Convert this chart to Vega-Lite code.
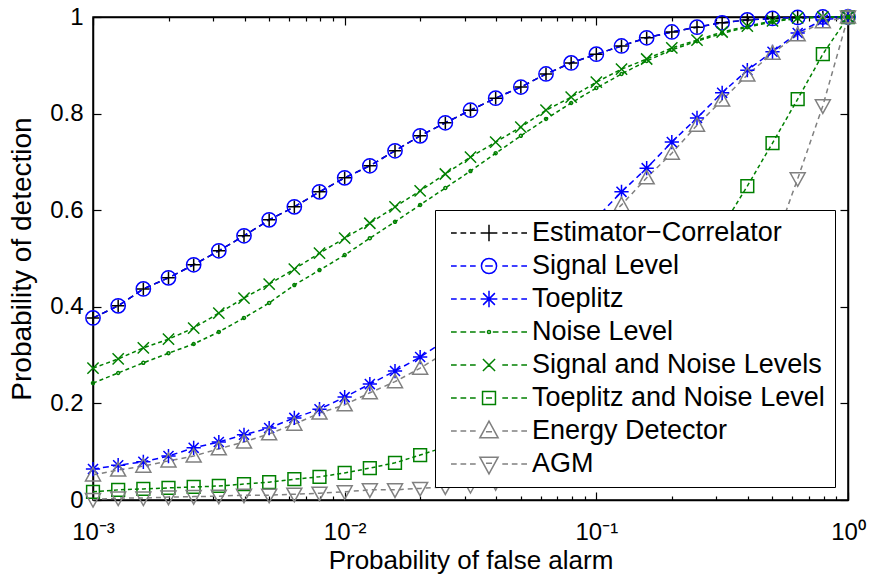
{
"$schema": "https://vega.github.io/schema/vega-lite/v6.json",
"width": 755, "height": 483,
"autosize": "none",
"padding": {"left": 93, "top": 17, "right": 21, "bottom": 82},
"background": "white",
"config": {
  "font": "Liberation Sans",
  "view": {"stroke": "black", "strokeWidth": 1.5},
  "axis": {"grid": false, "zindex": 1, "domainColor": "black", "domainWidth": 1.5, "tickColor": "black", "tickWidth": 1.2, "labelColor": "black", "titleColor": "black", "labelFont": "Liberation Sans", "titleFont": "Liberation Sans", "titleFontWeight": "normal"}
},
"data": {"values": [
{"series":"Estimator−Correlator","pfa":0.001,"pd":0.377},{"series":"Estimator−Correlator","pfa":0.001259,"pd":0.402},{"series":"Estimator−Correlator","pfa":0.001585,"pd":0.437},{"series":"Estimator−Correlator","pfa":0.001995,"pd":0.46},{"series":"Estimator−Correlator","pfa":0.002512,"pd":0.487},{"series":"Estimator−Correlator","pfa":0.003162,"pd":0.516},{"series":"Estimator−Correlator","pfa":0.003981,"pd":0.547},{"series":"Estimator−Correlator","pfa":0.005012,"pd":0.58},{"series":"Estimator−Correlator","pfa":0.00631,"pd":0.607},{"series":"Estimator−Correlator","pfa":0.007943,"pd":0.638},{"series":"Estimator−Correlator","pfa":0.01,"pd":0.667},{"series":"Estimator−Correlator","pfa":0.01259,"pd":0.692},{"series":"Estimator−Correlator","pfa":0.01585,"pd":0.723},{"series":"Estimator−Correlator","pfa":0.01995,"pd":0.754},{"series":"Estimator−Correlator","pfa":0.02512,"pd":0.781},{"series":"Estimator−Correlator","pfa":0.03162,"pd":0.807},{"series":"Estimator−Correlator","pfa":0.03981,"pd":0.832},{"series":"Estimator−Correlator","pfa":0.05012,"pd":0.855},{"series":"Estimator−Correlator","pfa":0.0631,"pd":0.882},{"series":"Estimator−Correlator","pfa":0.07943,"pd":0.905},{"series":"Estimator−Correlator","pfa":0.1,"pd":0.923},{"series":"Estimator−Correlator","pfa":0.1259,"pd":0.94},{"series":"Estimator−Correlator","pfa":0.1585,"pd":0.957},{"series":"Estimator−Correlator","pfa":0.1995,"pd":0.969},{"series":"Estimator−Correlator","pfa":0.2512,"pd":0.979},{"series":"Estimator−Correlator","pfa":0.3162,"pd":0.988},{"series":"Estimator−Correlator","pfa":0.3981,"pd":0.994},{"series":"Estimator−Correlator","pfa":0.5012,"pd":0.997},{"series":"Estimator−Correlator","pfa":0.631,"pd":0.999},{"series":"Estimator−Correlator","pfa":0.7943,"pd":1},{"series":"Estimator−Correlator","pfa":1,"pd":1},
{"series":"Signal Level","pfa":0.001,"pd":0.377},{"series":"Signal Level","pfa":0.001259,"pd":0.402},{"series":"Signal Level","pfa":0.001585,"pd":0.437},{"series":"Signal Level","pfa":0.001995,"pd":0.46},{"series":"Signal Level","pfa":0.002512,"pd":0.487},{"series":"Signal Level","pfa":0.003162,"pd":0.516},{"series":"Signal Level","pfa":0.003981,"pd":0.547},{"series":"Signal Level","pfa":0.005012,"pd":0.58},{"series":"Signal Level","pfa":0.00631,"pd":0.607},{"series":"Signal Level","pfa":0.007943,"pd":0.638},{"series":"Signal Level","pfa":0.01,"pd":0.667},{"series":"Signal Level","pfa":0.01259,"pd":0.692},{"series":"Signal Level","pfa":0.01585,"pd":0.723},{"series":"Signal Level","pfa":0.01995,"pd":0.754},{"series":"Signal Level","pfa":0.02512,"pd":0.781},{"series":"Signal Level","pfa":0.03162,"pd":0.807},{"series":"Signal Level","pfa":0.03981,"pd":0.832},{"series":"Signal Level","pfa":0.05012,"pd":0.855},{"series":"Signal Level","pfa":0.0631,"pd":0.882},{"series":"Signal Level","pfa":0.07943,"pd":0.905},{"series":"Signal Level","pfa":0.1,"pd":0.923},{"series":"Signal Level","pfa":0.1259,"pd":0.94},{"series":"Signal Level","pfa":0.1585,"pd":0.957},{"series":"Signal Level","pfa":0.1995,"pd":0.969},{"series":"Signal Level","pfa":0.2512,"pd":0.979},{"series":"Signal Level","pfa":0.3162,"pd":0.988},{"series":"Signal Level","pfa":0.3981,"pd":0.994},{"series":"Signal Level","pfa":0.5012,"pd":0.997},{"series":"Signal Level","pfa":0.631,"pd":0.999},{"series":"Signal Level","pfa":0.7943,"pd":1},{"series":"Signal Level","pfa":1,"pd":1},
{"series":"Toeplitz","pfa":0.001,"pd":0.064},{"series":"Toeplitz","pfa":0.001259,"pd":0.072},{"series":"Toeplitz","pfa":0.001585,"pd":0.079},{"series":"Toeplitz","pfa":0.001995,"pd":0.091},{"series":"Toeplitz","pfa":0.002512,"pd":0.108},{"series":"Toeplitz","pfa":0.003162,"pd":0.12},{"series":"Toeplitz","pfa":0.003981,"pd":0.135},{"series":"Toeplitz","pfa":0.005012,"pd":0.149},{"series":"Toeplitz","pfa":0.00631,"pd":0.17},{"series":"Toeplitz","pfa":0.007943,"pd":0.188},{"series":"Toeplitz","pfa":0.01,"pd":0.213},{"series":"Toeplitz","pfa":0.01259,"pd":0.24},{"series":"Toeplitz","pfa":0.01585,"pd":0.267},{"series":"Toeplitz","pfa":0.01995,"pd":0.296},{"series":"Toeplitz","pfa":0.02512,"pd":0.33},{"series":"Toeplitz","pfa":0.03162,"pd":0.37},{"series":"Toeplitz","pfa":0.03981,"pd":0.41},{"series":"Toeplitz","pfa":0.05012,"pd":0.45},{"series":"Toeplitz","pfa":0.0631,"pd":0.49},{"series":"Toeplitz","pfa":0.07943,"pd":0.535},{"series":"Toeplitz","pfa":0.1,"pd":0.584},{"series":"Toeplitz","pfa":0.1259,"pd":0.638},{"series":"Toeplitz","pfa":0.1585,"pd":0.687},{"series":"Toeplitz","pfa":0.1995,"pd":0.741},{"series":"Toeplitz","pfa":0.2512,"pd":0.791},{"series":"Toeplitz","pfa":0.3162,"pd":0.843},{"series":"Toeplitz","pfa":0.3981,"pd":0.89},{"series":"Toeplitz","pfa":0.5012,"pd":0.928},{"series":"Toeplitz","pfa":0.631,"pd":0.967},{"series":"Toeplitz","pfa":0.7943,"pd":0.994},{"series":"Toeplitz","pfa":1,"pd":1},
{"series":"Noise Level","pfa":0.001,"pd":0.242},{"series":"Noise Level","pfa":0.001259,"pd":0.263},{"series":"Noise Level","pfa":0.001585,"pd":0.284},{"series":"Noise Level","pfa":0.001995,"pd":0.304},{"series":"Noise Level","pfa":0.002512,"pd":0.323},{"series":"Noise Level","pfa":0.003162,"pd":0.348},{"series":"Noise Level","pfa":0.003981,"pd":0.377},{"series":"Noise Level","pfa":0.005012,"pd":0.408},{"series":"Noise Level","pfa":0.00631,"pd":0.445},{"series":"Noise Level","pfa":0.007943,"pd":0.476},{"series":"Noise Level","pfa":0.01,"pd":0.507},{"series":"Noise Level","pfa":0.01259,"pd":0.542},{"series":"Noise Level","pfa":0.01585,"pd":0.576},{"series":"Noise Level","pfa":0.01995,"pd":0.611},{"series":"Noise Level","pfa":0.02512,"pd":0.646},{"series":"Noise Level","pfa":0.03162,"pd":0.681},{"series":"Noise Level","pfa":0.03981,"pd":0.718},{"series":"Noise Level","pfa":0.05012,"pd":0.754},{"series":"Noise Level","pfa":0.0631,"pd":0.789},{"series":"Noise Level","pfa":0.07943,"pd":0.822},{"series":"Noise Level","pfa":0.1,"pd":0.853},{"series":"Noise Level","pfa":0.1259,"pd":0.882},{"series":"Noise Level","pfa":0.1585,"pd":0.909},{"series":"Noise Level","pfa":0.1995,"pd":0.932},{"series":"Noise Level","pfa":0.2512,"pd":0.95},{"series":"Noise Level","pfa":0.3162,"pd":0.966},{"series":"Noise Level","pfa":0.3981,"pd":0.979},{"series":"Noise Level","pfa":0.5012,"pd":0.99},{"series":"Noise Level","pfa":0.631,"pd":0.997},{"series":"Noise Level","pfa":0.7943,"pd":1},{"series":"Noise Level","pfa":1,"pd":1},
{"series":"Signal and Noise Levels","pfa":0.001,"pd":0.273},{"series":"Signal and Noise Levels","pfa":0.001259,"pd":0.292},{"series":"Signal and Noise Levels","pfa":0.001585,"pd":0.315},{"series":"Signal and Noise Levels","pfa":0.001995,"pd":0.333},{"series":"Signal and Noise Levels","pfa":0.002512,"pd":0.356},{"series":"Signal and Noise Levels","pfa":0.003162,"pd":0.387},{"series":"Signal and Noise Levels","pfa":0.003981,"pd":0.418},{"series":"Signal and Noise Levels","pfa":0.005012,"pd":0.447},{"series":"Signal and Noise Levels","pfa":0.00631,"pd":0.478},{"series":"Signal and Noise Levels","pfa":0.007943,"pd":0.511},{"series":"Signal and Noise Levels","pfa":0.01,"pd":0.542},{"series":"Signal and Noise Levels","pfa":0.01259,"pd":0.573},{"series":"Signal and Noise Levels","pfa":0.01585,"pd":0.607},{"series":"Signal and Noise Levels","pfa":0.01995,"pd":0.64},{"series":"Signal and Noise Levels","pfa":0.02512,"pd":0.675},{"series":"Signal and Noise Levels","pfa":0.03162,"pd":0.71},{"series":"Signal and Noise Levels","pfa":0.03981,"pd":0.741},{"series":"Signal and Noise Levels","pfa":0.05012,"pd":0.772},{"series":"Signal and Noise Levels","pfa":0.0631,"pd":0.807},{"series":"Signal and Noise Levels","pfa":0.07943,"pd":0.834},{"series":"Signal and Noise Levels","pfa":0.1,"pd":0.865},{"series":"Signal and Noise Levels","pfa":0.1259,"pd":0.892},{"series":"Signal and Noise Levels","pfa":0.1585,"pd":0.913},{"series":"Signal and Noise Levels","pfa":0.1995,"pd":0.936},{"series":"Signal and Noise Levels","pfa":0.2512,"pd":0.952},{"series":"Signal and Noise Levels","pfa":0.3162,"pd":0.969},{"series":"Signal and Noise Levels","pfa":0.3981,"pd":0.981},{"series":"Signal and Noise Levels","pfa":0.5012,"pd":0.992},{"series":"Signal and Noise Levels","pfa":0.631,"pd":0.998},{"series":"Signal and Noise Levels","pfa":0.7943,"pd":1},{"series":"Signal and Noise Levels","pfa":1,"pd":1},
{"series":"Toeplitz and Noise Level","pfa":0.001,"pd":0.017},{"series":"Toeplitz and Noise Level","pfa":0.001259,"pd":0.021},{"series":"Toeplitz and Noise Level","pfa":0.001585,"pd":0.023},{"series":"Toeplitz and Noise Level","pfa":0.001995,"pd":0.025},{"series":"Toeplitz and Noise Level","pfa":0.002512,"pd":0.027},{"series":"Toeplitz and Noise Level","pfa":0.003162,"pd":0.029},{"series":"Toeplitz and Noise Level","pfa":0.003981,"pd":0.033},{"series":"Toeplitz and Noise Level","pfa":0.005012,"pd":0.037},{"series":"Toeplitz and Noise Level","pfa":0.00631,"pd":0.043},{"series":"Toeplitz and Noise Level","pfa":0.007943,"pd":0.048},{"series":"Toeplitz and Noise Level","pfa":0.01,"pd":0.056},{"series":"Toeplitz and Noise Level","pfa":0.01259,"pd":0.066},{"series":"Toeplitz and Noise Level","pfa":0.01585,"pd":0.077},{"series":"Toeplitz and Noise Level","pfa":0.01995,"pd":0.093},{"series":"Toeplitz and Noise Level","pfa":0.02512,"pd":0.11},{"series":"Toeplitz and Noise Level","pfa":0.03162,"pd":0.13},{"series":"Toeplitz and Noise Level","pfa":0.03981,"pd":0.155},{"series":"Toeplitz and Noise Level","pfa":0.05012,"pd":0.18},{"series":"Toeplitz and Noise Level","pfa":0.0631,"pd":0.215},{"series":"Toeplitz and Noise Level","pfa":0.07943,"pd":0.25},{"series":"Toeplitz and Noise Level","pfa":0.1,"pd":0.29},{"series":"Toeplitz and Noise Level","pfa":0.1259,"pd":0.335},{"series":"Toeplitz and Noise Level","pfa":0.1585,"pd":0.385},{"series":"Toeplitz and Noise Level","pfa":0.1995,"pd":0.44},{"series":"Toeplitz and Noise Level","pfa":0.2512,"pd":0.5},{"series":"Toeplitz and Noise Level","pfa":0.3162,"pd":0.565},{"series":"Toeplitz and Noise Level","pfa":0.3981,"pd":0.65},{"series":"Toeplitz and Noise Level","pfa":0.5012,"pd":0.739},{"series":"Toeplitz and Noise Level","pfa":0.631,"pd":0.83},{"series":"Toeplitz and Noise Level","pfa":0.7943,"pd":0.923},{"series":"Toeplitz and Noise Level","pfa":1,"pd":1},
{"series":"Energy Detector","pfa":0.001,"pd":0.052},{"series":"Energy Detector","pfa":0.001259,"pd":0.062},{"series":"Energy Detector","pfa":0.001585,"pd":0.07},{"series":"Energy Detector","pfa":0.001995,"pd":0.081},{"series":"Energy Detector","pfa":0.002512,"pd":0.091},{"series":"Energy Detector","pfa":0.003162,"pd":0.106},{"series":"Energy Detector","pfa":0.003981,"pd":0.12},{"series":"Energy Detector","pfa":0.005012,"pd":0.137},{"series":"Energy Detector","pfa":0.00631,"pd":0.157},{"series":"Energy Detector","pfa":0.007943,"pd":0.18},{"series":"Energy Detector","pfa":0.01,"pd":0.197},{"series":"Energy Detector","pfa":0.01259,"pd":0.222},{"series":"Energy Detector","pfa":0.01585,"pd":0.245},{"series":"Energy Detector","pfa":0.01995,"pd":0.273},{"series":"Energy Detector","pfa":0.02512,"pd":0.305},{"series":"Energy Detector","pfa":0.03162,"pd":0.34},{"series":"Energy Detector","pfa":0.03981,"pd":0.38},{"series":"Energy Detector","pfa":0.05012,"pd":0.42},{"series":"Energy Detector","pfa":0.0631,"pd":0.465},{"series":"Energy Detector","pfa":0.07943,"pd":0.51},{"series":"Energy Detector","pfa":0.1,"pd":0.56},{"series":"Energy Detector","pfa":0.1259,"pd":0.611},{"series":"Energy Detector","pfa":0.1585,"pd":0.667},{"series":"Energy Detector","pfa":0.1995,"pd":0.718},{"series":"Energy Detector","pfa":0.2512,"pd":0.776},{"series":"Energy Detector","pfa":0.3162,"pd":0.828},{"series":"Energy Detector","pfa":0.3981,"pd":0.88},{"series":"Energy Detector","pfa":0.5012,"pd":0.925},{"series":"Energy Detector","pfa":0.631,"pd":0.963},{"series":"Energy Detector","pfa":0.7943,"pd":0.99},{"series":"Energy Detector","pfa":1,"pd":1},
{"series":"AGM","pfa":0.001,"pd":0.001},{"series":"AGM","pfa":0.001259,"pd":0.004},{"series":"AGM","pfa":0.001585,"pd":0.004},{"series":"AGM","pfa":0.001995,"pd":0.006},{"series":"AGM","pfa":0.002512,"pd":0.007},{"series":"AGM","pfa":0.003162,"pd":0.008},{"series":"AGM","pfa":0.003981,"pd":0.01},{"series":"AGM","pfa":0.005012,"pd":0.01},{"series":"AGM","pfa":0.00631,"pd":0.012},{"series":"AGM","pfa":0.007943,"pd":0.014},{"series":"AGM","pfa":0.01,"pd":0.017},{"series":"AGM","pfa":0.01259,"pd":0.021},{"series":"AGM","pfa":0.01585,"pd":0.021},{"series":"AGM","pfa":0.01995,"pd":0.024},{"series":"AGM","pfa":0.02512,"pd":0.027},{"series":"AGM","pfa":0.03162,"pd":0.03},{"series":"AGM","pfa":0.03981,"pd":0.036},{"series":"AGM","pfa":0.05012,"pd":0.044},{"series":"AGM","pfa":0.0631,"pd":0.055},{"series":"AGM","pfa":0.07943,"pd":0.07},{"series":"AGM","pfa":0.1,"pd":0.085},{"series":"AGM","pfa":0.1259,"pd":0.11},{"series":"AGM","pfa":0.1585,"pd":0.14},{"series":"AGM","pfa":0.1995,"pd":0.18},{"series":"AGM","pfa":0.2512,"pd":0.24},{"series":"AGM","pfa":0.3162,"pd":0.31},{"series":"AGM","pfa":0.3981,"pd":0.4},{"series":"AGM","pfa":0.5012,"pd":0.52},{"series":"AGM","pfa":0.631,"pd":0.665},{"series":"AGM","pfa":0.7943,"pd":0.816},{"series":"AGM","pfa":1,"pd":1}
]},
"layer": [
{
 "mark": {"type": "line", "strokeWidth": 1.5},
 "encoding": {
  "x": {"field": "pfa", "type": "quantitative", "scale": {"type": "log", "domain": [0.001, 1], "nice": false},
   "axis": {"orient": "bottom", "values": [0.001,0.002,0.003,0.004,0.005,0.006,0.007,0.008,0.009,0.01,0.02,0.03,0.04,0.05,0.06,0.07,0.08,0.09,0.1,0.2,0.3,0.4,0.5,0.6,0.7,0.8,0.9,1],
    "ticks": true, "tickSize": {"condition": {"test": "indexof([0.001,0.01,0.1,1], datum.value) >= 0", "value": -8}, "value": -4},
    "labels": false, "title": null}},
  "y": {"field": "pd", "type": "quantitative", "scale": {"domain": [0, 1], "nice": false},
   "axis": {"orient": "left", "values": [0,0.2,0.4,0.6,0.8,1], "ticks": true, "tickSize": -8, "labels": false, "title": null}},
  "stroke": {"field": "series", "type": "nominal",
   "scale": {"range": ["#808080","#808080","#000000","#008000","#0000ff","#008000","#0000ff","#008000"]}, "legend": null},
  "strokeDash": {"field": "series", "type": "nominal",
   "scale": {"range": [[5,4],[5,4],[6,4],[4,3],[6,4],[4,3],[6,4],[4,3]]}, "legend": null}
 }
},
{
 "mark": {"type": "point", "filled": false, "opacity": 1, "strokeWidth": 1.5, "size": 225},
 "encoding": {
  "x": {"field": "pfa", "type": "quantitative",
   "axis": {"orient": "top", "values": [0.001,0.002,0.003,0.004,0.005,0.006,0.007,0.008,0.009,0.01,0.02,0.03,0.04,0.05,0.06,0.07,0.08,0.09,0.1,0.2,0.3,0.4,0.5,0.6,0.7,0.8,0.9,1],
    "ticks": true, "tickSize": {"condition": {"test": "indexof([0.001,0.01,0.1,1], datum.value) >= 0", "value": -8}, "value": -4},
    "labels": false, "title": null}},
  "y": {"field": "pd", "type": "quantitative",
   "axis": {"orient": "right", "values": [0,0.2,0.4,0.6,0.8,1], "ticks": true, "tickSize": -8, "labels": false, "title": null}},
  "color": {"field": "series", "type": "nominal",
   "scale": {"domain": ["Estimator−Correlator","Signal Level","Toeplitz","Noise Level","Signal and Noise Levels","Toeplitz and Noise Level","Energy Detector","AGM"],
    "range": ["#000000","#0000ff","#0000ff","#008000","#008000","#008000","#808080","#808080"]},
   "legend": {"title": null, "orient": "bottom-right", "offset": 13, "fillColor": "white", "strokeColor": "black", "padding": 10,
    "labelFontSize": 27, "labelFont": "Liberation Sans", "labelColor": "black", "labelLimit": 400,
    "symbolSize": 5776, "symbolStrokeWidth": 1.5, "symbolOffset": 5, "labelOffset": 4, "clipHeight": 26, "rowPadding": 6, "symbolOpacity": 1,
    "symbolType": {"expr": "['M-1,0H-0.85M-0.75,0H-0.6M-0.5,0H-0.35M0.35,0H0.5M0.6,0H0.75M0.85,0H1M-0.22,0H0.22M0,-0.22V0.22','M-1,0H-0.85M-0.75,0H-0.6M-0.5,0H-0.35M0.35,0H0.5M0.6,0H0.75M0.85,0H1M-0.2,0A0.2,0.2 0 1,1 0.2,0A0.2,0.2 0 1,1 -0.2,0M-0.1,0H0.1','M-1,0H-0.85M-0.75,0H-0.6M-0.5,0H-0.35M0.35,0H0.5M0.6,0H0.75M0.85,0H1M-0.22,0H0.22M0,-0.22V0.22M-0.155,-0.155L0.155,0.155M-0.155,0.155L0.155,-0.155','M-1,0H-0.85M-0.75,0H-0.6M-0.5,0H-0.35M0.35,0H0.5M0.6,0H0.75M0.85,0H1M-0.25,0H-0.1M0.1,0H0.25M-0.04,0A0.04,0.04 0 1,1 0.04,0A0.04,0.04 0 1,1 -0.04,0','M-1,0H-0.85M-0.75,0H-0.6M-0.5,0H-0.35M0.35,0H0.5M0.6,0H0.75M0.85,0H1M-0.16,-0.16L0.16,0.16M-0.16,0.16L0.16,-0.16','M-1,0H-0.85M-0.75,0H-0.6M-0.5,0H-0.35M0.35,0H0.5M0.6,0H0.75M0.85,0H1M-0.17,-0.17H0.17V0.17H-0.17ZM-0.08,0H0.08','M-1,0H-0.85M-0.75,0H-0.6M-0.5,0H-0.35M0.35,0H0.5M0.6,0H0.75M0.85,0H1M0,-0.26L0.24,0.18H-0.24ZM-0.08,0.02H0.08','M-1,0H-0.85M-0.75,0H-0.6M-0.5,0H-0.35M0.35,0H0.5M0.6,0H0.75M0.85,0H1M0,0.26L0.24,-0.18H-0.24ZM-0.08,-0.02H0.08'][indexof(['Estimator−Correlator','Signal Level','Toeplitz','Noise Level','Signal and Noise Levels','Toeplitz and Noise Level','Energy Detector','AGM'], datum.value)]"}}},
  "shape": {"field": "series", "type": "nominal",
   "scale": {"range": ["M0,1L1,-0.8H-1Z","M0,-1L1,0.8H-1Z","M-0.85,0H0.85M0,-0.85V0.85","M-0.2,0A0.2,0.2 0 1,1 0.2,0A0.2,0.2 0 1,1 -0.2,0","M-0.95,0A0.95,0.95 0 1,1 0.95,0A0.95,0.95 0 1,1 -0.95,0","M-0.75,-0.75L0.75,0.75M-0.75,0.75L0.75,-0.75","M-0.95,0H0.95M0,-0.95V0.95M-0.67,-0.67L0.67,0.67M-0.67,0.67L0.67,-0.67","M-0.85,-0.85H0.85V0.85H-0.85Z"]},
   "legend": null}
 }
},
{
 "mark": {"type": "point", "opacity": 0},
 "encoding": {
  "x": {"field": "pfa", "type": "quantitative",
   "axis": {"orient": "bottom", "values": [0.001,0.01,0.1,1], "ticks": false, "domain": false,
    "labelExpr": "datum.value == 0.001 ? '10⁻³' : datum.value == 0.01 ? '10⁻²' : datum.value == 0.1 ? '10⁻¹' : '10⁰'",
    "labelFontSize": 24, "labelPadding": 20, "labelFlush": false, "labelOverlap": false,
    "title": "Probability of false alarm", "titleFontSize": 26, "titlePadding": 3}},
  "y": {"field": "pd", "type": "quantitative",
   "axis": {"orient": "left", "values": [0,0.2,0.4,0.6,0.8,1], "ticks": false, "domain": false,
    "labelExpr": "format(datum.value, '~g')", "labelFontSize": 24, "labelPadding": 10,
    "title": "Probability of detection", "titleFontSize": 28, "titlePadding": 13}}
 }
}
],
"resolve": {"axis": {"x": "independent", "y": "independent"}}
}
